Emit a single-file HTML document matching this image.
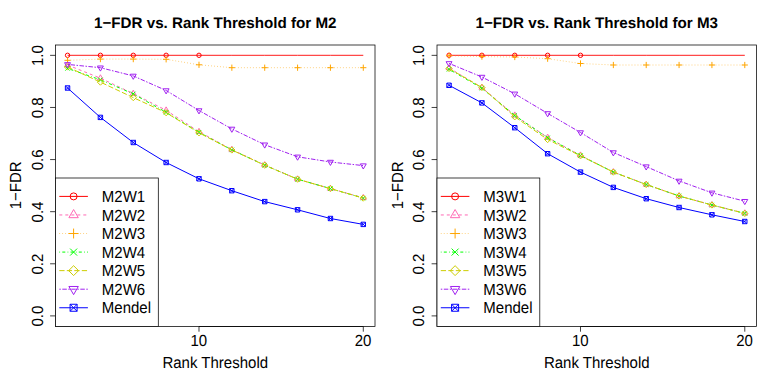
<!DOCTYPE html>
<html><head><meta charset="utf-8"><title>1-FDR vs. Rank Threshold</title>
<style>
html,body{margin:0;padding:0;background:#fff;}
svg{display:block;font-family:"Liberation Sans",sans-serif;fill:#000;text-rendering:geometricPrecision;}
</style></head>
<body>
<svg width="763" height="382" viewBox="0 0 763 382">
<rect width="763" height="382" fill="#fff"/>
<g>
<text transform="translate(215.25,27.75)" text-anchor="middle" font-weight="bold" font-size="15.2">1−FDR vs. Rank Threshold for M2</text>
<text transform="translate(215.25,367.8) scale(1,1.07)" text-anchor="middle" font-size="15">Rank Threshold</text>
<text transform="translate(21.00,185.35) rotate(-90) scale(1,1.07)" text-anchor="middle" font-size="15">1−FDR</text>
<polyline points="67.55,55.30 100.41,55.30 133.27,55.30 166.13,55.30 198.99,55.30 231.85,55.30 264.71,55.30 297.57,55.30 330.43,55.30 363.29,55.30" fill="none" stroke="#FF0000" stroke-width="0.9"/>
<circle cx="67.55" cy="55.30" r="2.20" stroke="#FF0000" stroke-width="1.0" fill="none"/>
<circle cx="100.41" cy="55.30" r="2.20" stroke="#FF0000" stroke-width="1.0" fill="none"/>
<circle cx="133.27" cy="55.30" r="2.20" stroke="#FF0000" stroke-width="1.0" fill="none"/>
<circle cx="166.13" cy="55.30" r="2.20" stroke="#FF0000" stroke-width="1.0" fill="none"/>
<circle cx="198.99" cy="55.30" r="2.20" stroke="#FF0000" stroke-width="1.0" fill="none"/>
<polyline points="67.55,65.00 100.41,78.20 133.27,93.60 166.13,110.30 198.99,131.70 231.85,149.60 264.71,165.00 297.57,179.20 330.43,188.60 363.29,197.80" fill="none" stroke="#FF69B4" stroke-width="1.0" stroke-dasharray="3,3"/>
<path d="M67.55 61.58L70.51 66.71L64.59 66.71Z" stroke="#FF69B4" stroke-width="1.0" fill="none"/>
<path d="M100.41 74.78L103.37 79.91L97.45 79.91Z" stroke="#FF69B4" stroke-width="1.0" fill="none"/>
<path d="M133.27 90.18L136.23 95.31L130.31 95.31Z" stroke="#FF69B4" stroke-width="1.0" fill="none"/>
<path d="M166.13 106.88L169.09 112.01L163.17 112.01Z" stroke="#FF69B4" stroke-width="1.0" fill="none"/>
<path d="M198.99 128.28L201.95 133.41L196.03 133.41Z" stroke="#FF69B4" stroke-width="1.0" fill="none"/>
<path d="M231.85 146.18L234.81 151.31L228.89 151.31Z" stroke="#FF69B4" stroke-width="1.0" fill="none"/>
<path d="M264.71 161.58L267.67 166.71L261.75 166.71Z" stroke="#FF69B4" stroke-width="1.0" fill="none"/>
<path d="M297.57 175.78L300.53 180.91L294.61 180.91Z" stroke="#FF69B4" stroke-width="1.0" fill="none"/>
<path d="M330.43 185.18L333.39 190.31L327.47 190.31Z" stroke="#FF69B4" stroke-width="1.0" fill="none"/>
<path d="M363.29 194.38L366.25 199.51L360.33 199.51Z" stroke="#FF69B4" stroke-width="1.0" fill="none"/>
<polyline points="67.55,60.30 100.41,59.10 133.27,59.10 166.13,59.30 198.99,64.80 231.85,67.70 264.71,67.70 297.57,67.70 330.43,67.70 363.29,67.70" fill="none" stroke="#FFA500" stroke-width="0.65" stroke-dasharray="0.75,2.25"/>
<path d="M64.44 60.30H70.66M67.55 57.19V63.41" stroke="#FFA500" stroke-width="1.0" fill="none"/>
<path d="M97.30 59.10H103.52M100.41 55.99V62.21" stroke="#FFA500" stroke-width="1.0" fill="none"/>
<path d="M130.16 59.10H136.38M133.27 55.99V62.21" stroke="#FFA500" stroke-width="1.0" fill="none"/>
<path d="M163.02 59.30H169.24M166.13 56.19V62.41" stroke="#FFA500" stroke-width="1.0" fill="none"/>
<path d="M195.88 64.80H202.10M198.99 61.69V67.91" stroke="#FFA500" stroke-width="1.0" fill="none"/>
<path d="M228.74 67.70H234.96M231.85 64.59V70.81" stroke="#FFA500" stroke-width="1.0" fill="none"/>
<path d="M261.60 67.70H267.82M264.71 64.59V70.81" stroke="#FFA500" stroke-width="1.0" fill="none"/>
<path d="M294.46 67.70H300.68M297.57 64.59V70.81" stroke="#FFA500" stroke-width="1.0" fill="none"/>
<path d="M327.32 67.70H333.54M330.43 64.59V70.81" stroke="#FFA500" stroke-width="1.0" fill="none"/>
<path d="M360.18 67.70H366.40M363.29 64.59V70.81" stroke="#FFA500" stroke-width="1.0" fill="none"/>
<polyline points="67.55,68.40 100.41,79.80 133.27,93.90 166.13,112.30 198.99,132.30 231.85,149.90 264.71,165.20 297.57,179.20 330.43,188.60 363.29,198.10" fill="none" stroke="#00FF00" stroke-width="1.0" stroke-dasharray="0.75,2.25,3,2.25"/>
<path d="M65.35 66.20L69.75 70.60M65.35 70.60L69.75 66.20" stroke="#00FF00" stroke-width="1.0" fill="none"/>
<path d="M98.21 77.60L102.61 82.00M98.21 82.00L102.61 77.60" stroke="#00FF00" stroke-width="1.0" fill="none"/>
<path d="M131.07 91.70L135.47 96.10M131.07 96.10L135.47 91.70" stroke="#00FF00" stroke-width="1.0" fill="none"/>
<path d="M163.93 110.10L168.33 114.50M163.93 114.50L168.33 110.10" stroke="#00FF00" stroke-width="1.0" fill="none"/>
<path d="M196.79 130.10L201.19 134.50M196.79 134.50L201.19 130.10" stroke="#00FF00" stroke-width="1.0" fill="none"/>
<path d="M229.65 147.70L234.05 152.10M229.65 152.10L234.05 147.70" stroke="#00FF00" stroke-width="1.0" fill="none"/>
<path d="M262.51 163.00L266.91 167.40M262.51 167.40L266.91 163.00" stroke="#00FF00" stroke-width="1.0" fill="none"/>
<path d="M295.37 177.00L299.77 181.40M295.37 181.40L299.77 177.00" stroke="#00FF00" stroke-width="1.0" fill="none"/>
<path d="M328.23 186.40L332.63 190.80M328.23 190.80L332.63 186.40" stroke="#00FF00" stroke-width="1.0" fill="none"/>
<path d="M361.09 195.90L365.49 200.30M361.09 200.30L365.49 195.90" stroke="#00FF00" stroke-width="1.0" fill="none"/>
<polyline points="67.55,67.00 100.41,82.10 133.27,97.60 166.13,112.70 198.99,132.80 231.85,150.00 264.71,165.20 297.57,179.20 330.43,188.60 363.29,198.10" fill="none" stroke="#CDCD00" stroke-width="1.0" stroke-dasharray="5.25,2.25"/>
<path d="M64.44 67.00L67.55 63.89L70.66 67.00L67.55 70.11Z" stroke="#CDCD00" stroke-width="1.0" fill="none"/>
<path d="M97.30 82.10L100.41 78.99L103.52 82.10L100.41 85.21Z" stroke="#CDCD00" stroke-width="1.0" fill="none"/>
<path d="M130.16 97.60L133.27 94.49L136.38 97.60L133.27 100.71Z" stroke="#CDCD00" stroke-width="1.0" fill="none"/>
<path d="M163.02 112.70L166.13 109.59L169.24 112.70L166.13 115.81Z" stroke="#CDCD00" stroke-width="1.0" fill="none"/>
<path d="M195.88 132.80L198.99 129.69L202.10 132.80L198.99 135.91Z" stroke="#CDCD00" stroke-width="1.0" fill="none"/>
<path d="M228.74 150.00L231.85 146.89L234.96 150.00L231.85 153.11Z" stroke="#CDCD00" stroke-width="1.0" fill="none"/>
<path d="M261.60 165.20L264.71 162.09L267.82 165.20L264.71 168.31Z" stroke="#CDCD00" stroke-width="1.0" fill="none"/>
<path d="M294.46 179.20L297.57 176.09L300.68 179.20L297.57 182.31Z" stroke="#CDCD00" stroke-width="1.0" fill="none"/>
<path d="M327.32 188.60L330.43 185.49L333.54 188.60L330.43 191.71Z" stroke="#CDCD00" stroke-width="1.0" fill="none"/>
<path d="M360.18 198.10L363.29 194.99L366.40 198.10L363.29 201.21Z" stroke="#CDCD00" stroke-width="1.0" fill="none"/>
<polyline points="67.55,64.40 100.41,67.70 133.27,75.90 166.13,90.50 198.99,110.50 231.85,128.90 264.71,144.70 297.57,156.80 330.43,162.00 363.29,165.60" fill="none" stroke="#A020F0" stroke-width="1.0" stroke-dasharray="1.5,1.5,4.5,1.5"/>
<path d="M67.55 67.82L70.51 62.69L64.59 62.69Z" stroke="#A020F0" stroke-width="1.0" fill="none"/>
<path d="M100.41 71.12L103.37 65.99L97.45 65.99Z" stroke="#A020F0" stroke-width="1.0" fill="none"/>
<path d="M133.27 79.32L136.23 74.19L130.31 74.19Z" stroke="#A020F0" stroke-width="1.0" fill="none"/>
<path d="M166.13 93.92L169.09 88.79L163.17 88.79Z" stroke="#A020F0" stroke-width="1.0" fill="none"/>
<path d="M198.99 113.92L201.95 108.79L196.03 108.79Z" stroke="#A020F0" stroke-width="1.0" fill="none"/>
<path d="M231.85 132.32L234.81 127.19L228.89 127.19Z" stroke="#A020F0" stroke-width="1.0" fill="none"/>
<path d="M264.71 148.12L267.67 142.99L261.75 142.99Z" stroke="#A020F0" stroke-width="1.0" fill="none"/>
<path d="M297.57 160.22L300.53 155.09L294.61 155.09Z" stroke="#A020F0" stroke-width="1.0" fill="none"/>
<path d="M330.43 165.42L333.39 160.29L327.47 160.29Z" stroke="#A020F0" stroke-width="1.0" fill="none"/>
<path d="M363.29 169.02L366.25 163.89L360.33 163.89Z" stroke="#A020F0" stroke-width="1.0" fill="none"/>
<polyline points="67.55,88.00 100.41,117.40 133.27,142.50 166.13,162.50 198.99,178.80 231.85,190.70 264.71,201.60 297.57,209.80 330.43,218.50 363.29,224.40" fill="none" stroke="#0000FF" stroke-width="1.0"/>
<path d="M65.35 85.80H69.75V90.20H65.35ZM65.35 85.80L69.75 90.20M65.35 90.20L69.75 85.80" stroke="#0000FF" stroke-width="1.0" fill="none"/>
<path d="M98.21 115.20H102.61V119.60H98.21ZM98.21 115.20L102.61 119.60M98.21 119.60L102.61 115.20" stroke="#0000FF" stroke-width="1.0" fill="none"/>
<path d="M131.07 140.30H135.47V144.70H131.07ZM131.07 140.30L135.47 144.70M131.07 144.70L135.47 140.30" stroke="#0000FF" stroke-width="1.0" fill="none"/>
<path d="M163.93 160.30H168.33V164.70H163.93ZM163.93 160.30L168.33 164.70M163.93 164.70L168.33 160.30" stroke="#0000FF" stroke-width="1.0" fill="none"/>
<path d="M196.79 176.60H201.19V181.00H196.79ZM196.79 176.60L201.19 181.00M196.79 181.00L201.19 176.60" stroke="#0000FF" stroke-width="1.0" fill="none"/>
<path d="M229.65 188.50H234.05V192.90H229.65ZM229.65 188.50L234.05 192.90M229.65 192.90L234.05 188.50" stroke="#0000FF" stroke-width="1.0" fill="none"/>
<path d="M262.51 199.40H266.91V203.80H262.51ZM262.51 199.40L266.91 203.80M262.51 203.80L266.91 199.40" stroke="#0000FF" stroke-width="1.0" fill="none"/>
<path d="M295.37 207.60H299.77V212.00H295.37ZM295.37 207.60L299.77 212.00M295.37 212.00L299.77 207.60" stroke="#0000FF" stroke-width="1.0" fill="none"/>
<path d="M328.23 216.30H332.63V220.70H328.23ZM328.23 216.30L332.63 220.70M328.23 220.70L332.63 216.30" stroke="#0000FF" stroke-width="1.0" fill="none"/>
<path d="M361.09 222.20H365.49V226.60H361.09ZM361.09 222.20L365.49 226.60M361.09 226.60L365.49 222.20" stroke="#0000FF" stroke-width="1.0" fill="none"/>
<rect x="55.50" y="45.00" width="319.50" height="281.50" fill="none" stroke="#000" stroke-width="0.75"/>
<path d="M198.99 326.50V331.70" stroke="#000" stroke-width="0.75"/>
<text transform="translate(198.79,346.2) scale(1,1.07)" text-anchor="middle" font-size="15">10</text>
<path d="M363.29 326.50V331.70" stroke="#000" stroke-width="0.75"/>
<text transform="translate(363.09,346.2) scale(1,1.07)" text-anchor="middle" font-size="15">20</text>
<path d="M198.99 326.50H363.29" stroke="#000" stroke-width="0.75"/>
<path d="M55.50 315.90H50.10" stroke="#000" stroke-width="0.75"/>
<text transform="translate(42.80,316.20) rotate(-90) scale(1,1.07)" text-anchor="middle" font-size="15">0.0</text>
<path d="M55.50 263.79H50.10" stroke="#000" stroke-width="0.75"/>
<text transform="translate(42.80,264.09) rotate(-90) scale(1,1.07)" text-anchor="middle" font-size="15">0.2</text>
<path d="M55.50 211.68H50.10" stroke="#000" stroke-width="0.75"/>
<text transform="translate(42.80,211.98) rotate(-90) scale(1,1.07)" text-anchor="middle" font-size="15">0.4</text>
<path d="M55.50 159.57H50.10" stroke="#000" stroke-width="0.75"/>
<text transform="translate(42.80,159.87) rotate(-90) scale(1,1.07)" text-anchor="middle" font-size="15">0.6</text>
<path d="M55.50 107.46H50.10" stroke="#000" stroke-width="0.75"/>
<text transform="translate(42.80,107.76) rotate(-90) scale(1,1.07)" text-anchor="middle" font-size="15">0.8</text>
<path d="M55.50 55.35H50.10" stroke="#000" stroke-width="0.75"/>
<text transform="translate(42.80,55.65) rotate(-90) scale(1,1.07)" text-anchor="middle" font-size="15">1.0</text>
<rect x="55.50" y="178.00" width="102.80" height="148.50" fill="#fff" stroke="#000" stroke-width="0.75"/>
<path d="M59.30 196.40H87.90" stroke="#FF0000" stroke-width="1.0" fill="none"/>
<circle cx="73.60" cy="196.40" r="3.50" stroke="#FF0000" stroke-width="1.0" fill="none"/>
<text transform="translate(101.80,202.10) scale(1,1.07)" font-size="15">M2W1</text>
<path d="M59.30 214.96H87.90" stroke="#FF69B4" stroke-width="1.0" stroke-dasharray="3,3" fill="none"/>
<path d="M73.60 209.52L78.31 217.68L68.89 217.68Z" stroke="#FF69B4" stroke-width="1.0" fill="none"/>
<text transform="translate(101.80,220.66) scale(1,1.07)" font-size="15">M2W2</text>
<path d="M59.30 233.52H87.90" stroke="#FFA500" stroke-width="0.65" stroke-dasharray="0.75,2.25" fill="none"/>
<path d="M68.65 233.52H78.55M73.60 228.57V238.47" stroke="#FFA500" stroke-width="1.0" fill="none"/>
<text transform="translate(101.80,239.22) scale(1,1.07)" font-size="15">M2W3</text>
<path d="M59.30 252.08H87.90" stroke="#00FF00" stroke-width="1.0" stroke-dasharray="0.75,2.25,3,2.25" fill="none"/>
<path d="M70.10 248.58L77.10 255.58M70.10 255.58L77.10 248.58" stroke="#00FF00" stroke-width="1.0" fill="none"/>
<text transform="translate(101.80,257.78) scale(1,1.07)" font-size="15">M2W4</text>
<path d="M59.30 270.64H87.90" stroke="#CDCD00" stroke-width="1.0" stroke-dasharray="5.25,2.25" fill="none"/>
<path d="M68.65 270.64L73.60 265.69L78.55 270.64L73.60 275.59Z" stroke="#CDCD00" stroke-width="1.0" fill="none"/>
<text transform="translate(101.80,276.34) scale(1,1.07)" font-size="15">M2W5</text>
<path d="M59.30 289.20H87.90" stroke="#A020F0" stroke-width="1.0" stroke-dasharray="1.5,1.5,4.5,1.5" fill="none"/>
<path d="M73.60 294.64L78.31 286.48L68.89 286.48Z" stroke="#A020F0" stroke-width="1.0" fill="none"/>
<text transform="translate(101.80,294.90) scale(1,1.07)" font-size="15">M2W6</text>
<path d="M59.30 307.76H87.90" stroke="#0000FF" stroke-width="1.0" fill="none"/>
<path d="M70.10 304.26H77.10V311.26H70.10ZM70.10 304.26L77.10 311.26M70.10 311.26L77.10 304.26" stroke="#0000FF" stroke-width="1.0" fill="none"/>
<text transform="translate(101.80,313.46) scale(1,1.07)" font-size="15">Mendel</text>
</g>
<g>
<text transform="translate(596.75,27.75)" text-anchor="middle" font-weight="bold" font-size="15.2">1−FDR vs. Rank Threshold for M3</text>
<text transform="translate(596.75,367.8) scale(1,1.07)" text-anchor="middle" font-size="15">Rank Threshold</text>
<text transform="translate(402.50,185.35) rotate(-90) scale(1,1.07)" text-anchor="middle" font-size="15">1−FDR</text>
<polyline points="449.05,55.30 481.91,55.30 514.77,55.30 547.63,55.30 580.49,55.30 613.35,55.30 646.21,55.30 679.07,55.30 711.93,55.30 744.79,55.30" fill="none" stroke="#FF0000" stroke-width="0.9"/>
<circle cx="449.05" cy="55.30" r="2.20" stroke="#FF0000" stroke-width="1.0" fill="none"/>
<circle cx="481.91" cy="55.30" r="2.20" stroke="#FF0000" stroke-width="1.0" fill="none"/>
<circle cx="514.77" cy="55.30" r="2.20" stroke="#FF0000" stroke-width="1.0" fill="none"/>
<circle cx="547.63" cy="55.30" r="2.20" stroke="#FF0000" stroke-width="1.0" fill="none"/>
<circle cx="580.49" cy="55.30" r="2.20" stroke="#FF0000" stroke-width="1.0" fill="none"/>
<polyline points="449.05,68.00 481.91,87.60 514.77,115.30 547.63,137.50 580.49,155.30 613.35,172.00 646.21,184.50 679.07,196.00 711.93,205.00 744.79,213.20" fill="none" stroke="#FF69B4" stroke-width="1.0" stroke-dasharray="3,3"/>
<path d="M449.05 64.58L452.01 69.71L446.09 69.71Z" stroke="#FF69B4" stroke-width="1.0" fill="none"/>
<path d="M481.91 84.18L484.87 89.31L478.95 89.31Z" stroke="#FF69B4" stroke-width="1.0" fill="none"/>
<path d="M514.77 111.88L517.73 117.01L511.81 117.01Z" stroke="#FF69B4" stroke-width="1.0" fill="none"/>
<path d="M547.63 134.08L550.59 139.21L544.67 139.21Z" stroke="#FF69B4" stroke-width="1.0" fill="none"/>
<path d="M580.49 151.88L583.45 157.01L577.53 157.01Z" stroke="#FF69B4" stroke-width="1.0" fill="none"/>
<path d="M613.35 168.58L616.31 173.71L610.39 173.71Z" stroke="#FF69B4" stroke-width="1.0" fill="none"/>
<path d="M646.21 181.08L649.17 186.21L643.25 186.21Z" stroke="#FF69B4" stroke-width="1.0" fill="none"/>
<path d="M679.07 192.58L682.03 197.71L676.11 197.71Z" stroke="#FF69B4" stroke-width="1.0" fill="none"/>
<path d="M711.93 201.58L714.89 206.71L708.97 206.71Z" stroke="#FF69B4" stroke-width="1.0" fill="none"/>
<path d="M744.79 209.78L747.75 214.91L741.83 214.91Z" stroke="#FF69B4" stroke-width="1.0" fill="none"/>
<polyline points="449.05,55.70 481.91,56.60 514.77,57.00 547.63,58.70 580.49,63.50 613.35,65.00 646.21,65.00 679.07,65.00 711.93,65.00 744.79,65.00" fill="none" stroke="#FFA500" stroke-width="0.65" stroke-dasharray="0.75,2.25"/>
<path d="M445.94 55.70H452.16M449.05 52.59V58.81" stroke="#FFA500" stroke-width="1.0" fill="none"/>
<path d="M478.80 56.60H485.02M481.91 53.49V59.71" stroke="#FFA500" stroke-width="1.0" fill="none"/>
<path d="M511.66 57.00H517.88M514.77 53.89V60.11" stroke="#FFA500" stroke-width="1.0" fill="none"/>
<path d="M544.52 58.70H550.74M547.63 55.59V61.81" stroke="#FFA500" stroke-width="1.0" fill="none"/>
<path d="M577.38 63.50H583.60M580.49 60.39V66.61" stroke="#FFA500" stroke-width="1.0" fill="none"/>
<path d="M610.24 65.00H616.46M613.35 61.89V68.11" stroke="#FFA500" stroke-width="1.0" fill="none"/>
<path d="M643.10 65.00H649.32M646.21 61.89V68.11" stroke="#FFA500" stroke-width="1.0" fill="none"/>
<path d="M675.96 65.00H682.18M679.07 61.89V68.11" stroke="#FFA500" stroke-width="1.0" fill="none"/>
<path d="M708.82 65.00H715.04M711.93 61.89V68.11" stroke="#FFA500" stroke-width="1.0" fill="none"/>
<path d="M741.68 65.00H747.90M744.79 61.89V68.11" stroke="#FFA500" stroke-width="1.0" fill="none"/>
<polyline points="449.05,69.30 481.91,88.20 514.77,115.50 547.63,137.80 580.49,155.60 613.35,172.10 646.21,184.50 679.07,196.00 711.93,205.00 744.79,213.40" fill="none" stroke="#00FF00" stroke-width="1.0" stroke-dasharray="0.75,2.25,3,2.25"/>
<path d="M446.85 67.10L451.25 71.50M446.85 71.50L451.25 67.10" stroke="#00FF00" stroke-width="1.0" fill="none"/>
<path d="M479.71 86.00L484.11 90.40M479.71 90.40L484.11 86.00" stroke="#00FF00" stroke-width="1.0" fill="none"/>
<path d="M512.57 113.30L516.97 117.70M512.57 117.70L516.97 113.30" stroke="#00FF00" stroke-width="1.0" fill="none"/>
<path d="M545.43 135.60L549.83 140.00M545.43 140.00L549.83 135.60" stroke="#00FF00" stroke-width="1.0" fill="none"/>
<path d="M578.29 153.40L582.69 157.80M578.29 157.80L582.69 153.40" stroke="#00FF00" stroke-width="1.0" fill="none"/>
<path d="M611.15 169.90L615.55 174.30M611.15 174.30L615.55 169.90" stroke="#00FF00" stroke-width="1.0" fill="none"/>
<path d="M644.01 182.30L648.41 186.70M644.01 186.70L648.41 182.30" stroke="#00FF00" stroke-width="1.0" fill="none"/>
<path d="M676.87 193.80L681.27 198.20M676.87 198.20L681.27 193.80" stroke="#00FF00" stroke-width="1.0" fill="none"/>
<path d="M709.73 202.80L714.13 207.20M709.73 207.20L714.13 202.80" stroke="#00FF00" stroke-width="1.0" fill="none"/>
<path d="M742.59 211.20L746.99 215.60M742.59 215.60L746.99 211.20" stroke="#00FF00" stroke-width="1.0" fill="none"/>
<polyline points="449.05,68.50 481.91,87.50 514.77,116.80 547.63,139.50 580.49,155.80 613.35,172.10 646.21,184.50 679.07,196.00 711.93,205.00 744.79,213.40" fill="none" stroke="#CDCD00" stroke-width="1.0" stroke-dasharray="5.25,2.25"/>
<path d="M445.94 68.50L449.05 65.39L452.16 68.50L449.05 71.61Z" stroke="#CDCD00" stroke-width="1.0" fill="none"/>
<path d="M478.80 87.50L481.91 84.39L485.02 87.50L481.91 90.61Z" stroke="#CDCD00" stroke-width="1.0" fill="none"/>
<path d="M511.66 116.80L514.77 113.69L517.88 116.80L514.77 119.91Z" stroke="#CDCD00" stroke-width="1.0" fill="none"/>
<path d="M544.52 139.50L547.63 136.39L550.74 139.50L547.63 142.61Z" stroke="#CDCD00" stroke-width="1.0" fill="none"/>
<path d="M577.38 155.80L580.49 152.69L583.60 155.80L580.49 158.91Z" stroke="#CDCD00" stroke-width="1.0" fill="none"/>
<path d="M610.24 172.10L613.35 168.99L616.46 172.10L613.35 175.21Z" stroke="#CDCD00" stroke-width="1.0" fill="none"/>
<path d="M643.10 184.50L646.21 181.39L649.32 184.50L646.21 187.61Z" stroke="#CDCD00" stroke-width="1.0" fill="none"/>
<path d="M675.96 196.00L679.07 192.89L682.18 196.00L679.07 199.11Z" stroke="#CDCD00" stroke-width="1.0" fill="none"/>
<path d="M708.82 205.00L711.93 201.89L715.04 205.00L711.93 208.11Z" stroke="#CDCD00" stroke-width="1.0" fill="none"/>
<path d="M741.68 213.40L744.79 210.29L747.90 213.40L744.79 216.51Z" stroke="#CDCD00" stroke-width="1.0" fill="none"/>
<polyline points="449.05,63.40 481.91,77.00 514.77,93.80 547.63,113.40 580.49,132.50 613.35,152.50 646.21,166.60 679.07,180.90 711.93,192.80 744.79,201.20" fill="none" stroke="#A020F0" stroke-width="1.0" stroke-dasharray="1.5,1.5,4.5,1.5"/>
<path d="M449.05 66.82L452.01 61.69L446.09 61.69Z" stroke="#A020F0" stroke-width="1.0" fill="none"/>
<path d="M481.91 80.42L484.87 75.29L478.95 75.29Z" stroke="#A020F0" stroke-width="1.0" fill="none"/>
<path d="M514.77 97.22L517.73 92.09L511.81 92.09Z" stroke="#A020F0" stroke-width="1.0" fill="none"/>
<path d="M547.63 116.82L550.59 111.69L544.67 111.69Z" stroke="#A020F0" stroke-width="1.0" fill="none"/>
<path d="M580.49 135.92L583.45 130.79L577.53 130.79Z" stroke="#A020F0" stroke-width="1.0" fill="none"/>
<path d="M613.35 155.92L616.31 150.79L610.39 150.79Z" stroke="#A020F0" stroke-width="1.0" fill="none"/>
<path d="M646.21 170.02L649.17 164.89L643.25 164.89Z" stroke="#A020F0" stroke-width="1.0" fill="none"/>
<path d="M679.07 184.32L682.03 179.19L676.11 179.19Z" stroke="#A020F0" stroke-width="1.0" fill="none"/>
<path d="M711.93 196.22L714.89 191.09L708.97 191.09Z" stroke="#A020F0" stroke-width="1.0" fill="none"/>
<path d="M744.79 204.62L747.75 199.49L741.83 199.49Z" stroke="#A020F0" stroke-width="1.0" fill="none"/>
<polyline points="449.05,85.30 481.91,102.90 514.77,127.70 547.63,153.70 580.49,172.10 613.35,187.40 646.21,198.70 679.07,207.50 711.93,214.80 744.79,221.50" fill="none" stroke="#0000FF" stroke-width="1.0"/>
<path d="M446.85 83.10H451.25V87.50H446.85ZM446.85 83.10L451.25 87.50M446.85 87.50L451.25 83.10" stroke="#0000FF" stroke-width="1.0" fill="none"/>
<path d="M479.71 100.70H484.11V105.10H479.71ZM479.71 100.70L484.11 105.10M479.71 105.10L484.11 100.70" stroke="#0000FF" stroke-width="1.0" fill="none"/>
<path d="M512.57 125.50H516.97V129.90H512.57ZM512.57 125.50L516.97 129.90M512.57 129.90L516.97 125.50" stroke="#0000FF" stroke-width="1.0" fill="none"/>
<path d="M545.43 151.50H549.83V155.90H545.43ZM545.43 151.50L549.83 155.90M545.43 155.90L549.83 151.50" stroke="#0000FF" stroke-width="1.0" fill="none"/>
<path d="M578.29 169.90H582.69V174.30H578.29ZM578.29 169.90L582.69 174.30M578.29 174.30L582.69 169.90" stroke="#0000FF" stroke-width="1.0" fill="none"/>
<path d="M611.15 185.20H615.55V189.60H611.15ZM611.15 185.20L615.55 189.60M611.15 189.60L615.55 185.20" stroke="#0000FF" stroke-width="1.0" fill="none"/>
<path d="M644.01 196.50H648.41V200.90H644.01ZM644.01 196.50L648.41 200.90M644.01 200.90L648.41 196.50" stroke="#0000FF" stroke-width="1.0" fill="none"/>
<path d="M676.87 205.30H681.27V209.70H676.87ZM676.87 205.30L681.27 209.70M676.87 209.70L681.27 205.30" stroke="#0000FF" stroke-width="1.0" fill="none"/>
<path d="M709.73 212.60H714.13V217.00H709.73ZM709.73 212.60L714.13 217.00M709.73 217.00L714.13 212.60" stroke="#0000FF" stroke-width="1.0" fill="none"/>
<path d="M742.59 219.30H746.99V223.70H742.59ZM742.59 219.30L746.99 223.70M742.59 223.70L746.99 219.30" stroke="#0000FF" stroke-width="1.0" fill="none"/>
<rect x="437.00" y="45.00" width="319.50" height="281.50" fill="none" stroke="#000" stroke-width="0.75"/>
<path d="M580.49 326.50V331.70" stroke="#000" stroke-width="0.75"/>
<text transform="translate(580.29,346.2) scale(1,1.07)" text-anchor="middle" font-size="15">10</text>
<path d="M744.79 326.50V331.70" stroke="#000" stroke-width="0.75"/>
<text transform="translate(744.59,346.2) scale(1,1.07)" text-anchor="middle" font-size="15">20</text>
<path d="M580.49 326.50H744.79" stroke="#000" stroke-width="0.75"/>
<path d="M437.00 315.90H431.60" stroke="#000" stroke-width="0.75"/>
<text transform="translate(424.30,316.20) rotate(-90) scale(1,1.07)" text-anchor="middle" font-size="15">0.0</text>
<path d="M437.00 263.79H431.60" stroke="#000" stroke-width="0.75"/>
<text transform="translate(424.30,264.09) rotate(-90) scale(1,1.07)" text-anchor="middle" font-size="15">0.2</text>
<path d="M437.00 211.68H431.60" stroke="#000" stroke-width="0.75"/>
<text transform="translate(424.30,211.98) rotate(-90) scale(1,1.07)" text-anchor="middle" font-size="15">0.4</text>
<path d="M437.00 159.57H431.60" stroke="#000" stroke-width="0.75"/>
<text transform="translate(424.30,159.87) rotate(-90) scale(1,1.07)" text-anchor="middle" font-size="15">0.6</text>
<path d="M437.00 107.46H431.60" stroke="#000" stroke-width="0.75"/>
<text transform="translate(424.30,107.76) rotate(-90) scale(1,1.07)" text-anchor="middle" font-size="15">0.8</text>
<path d="M437.00 55.35H431.60" stroke="#000" stroke-width="0.75"/>
<text transform="translate(424.30,55.65) rotate(-90) scale(1,1.07)" text-anchor="middle" font-size="15">1.0</text>
<rect x="437.00" y="178.00" width="102.80" height="148.50" fill="#fff" stroke="#000" stroke-width="0.75"/>
<path d="M440.80 196.40H469.40" stroke="#FF0000" stroke-width="1.0" fill="none"/>
<circle cx="455.10" cy="196.40" r="3.50" stroke="#FF0000" stroke-width="1.0" fill="none"/>
<text transform="translate(483.30,202.10) scale(1,1.07)" font-size="15">M3W1</text>
<path d="M440.80 214.96H469.40" stroke="#FF69B4" stroke-width="1.0" stroke-dasharray="3,3" fill="none"/>
<path d="M455.10 209.52L459.81 217.68L450.39 217.68Z" stroke="#FF69B4" stroke-width="1.0" fill="none"/>
<text transform="translate(483.30,220.66) scale(1,1.07)" font-size="15">M3W2</text>
<path d="M440.80 233.52H469.40" stroke="#FFA500" stroke-width="0.65" stroke-dasharray="0.75,2.25" fill="none"/>
<path d="M450.15 233.52H460.05M455.10 228.57V238.47" stroke="#FFA500" stroke-width="1.0" fill="none"/>
<text transform="translate(483.30,239.22) scale(1,1.07)" font-size="15">M3W3</text>
<path d="M440.80 252.08H469.40" stroke="#00FF00" stroke-width="1.0" stroke-dasharray="0.75,2.25,3,2.25" fill="none"/>
<path d="M451.60 248.58L458.60 255.58M451.60 255.58L458.60 248.58" stroke="#00FF00" stroke-width="1.0" fill="none"/>
<text transform="translate(483.30,257.78) scale(1,1.07)" font-size="15">M3W4</text>
<path d="M440.80 270.64H469.40" stroke="#CDCD00" stroke-width="1.0" stroke-dasharray="5.25,2.25" fill="none"/>
<path d="M450.15 270.64L455.10 265.69L460.05 270.64L455.10 275.59Z" stroke="#CDCD00" stroke-width="1.0" fill="none"/>
<text transform="translate(483.30,276.34) scale(1,1.07)" font-size="15">M3W5</text>
<path d="M440.80 289.20H469.40" stroke="#A020F0" stroke-width="1.0" stroke-dasharray="1.5,1.5,4.5,1.5" fill="none"/>
<path d="M455.10 294.64L459.81 286.48L450.39 286.48Z" stroke="#A020F0" stroke-width="1.0" fill="none"/>
<text transform="translate(483.30,294.90) scale(1,1.07)" font-size="15">M3W6</text>
<path d="M440.80 307.76H469.40" stroke="#0000FF" stroke-width="1.0" fill="none"/>
<path d="M451.60 304.26H458.60V311.26H451.60ZM451.60 304.26L458.60 311.26M451.60 311.26L458.60 304.26" stroke="#0000FF" stroke-width="1.0" fill="none"/>
<text transform="translate(483.30,313.46) scale(1,1.07)" font-size="15">Mendel</text>
</g>
</svg>
</body></html>
